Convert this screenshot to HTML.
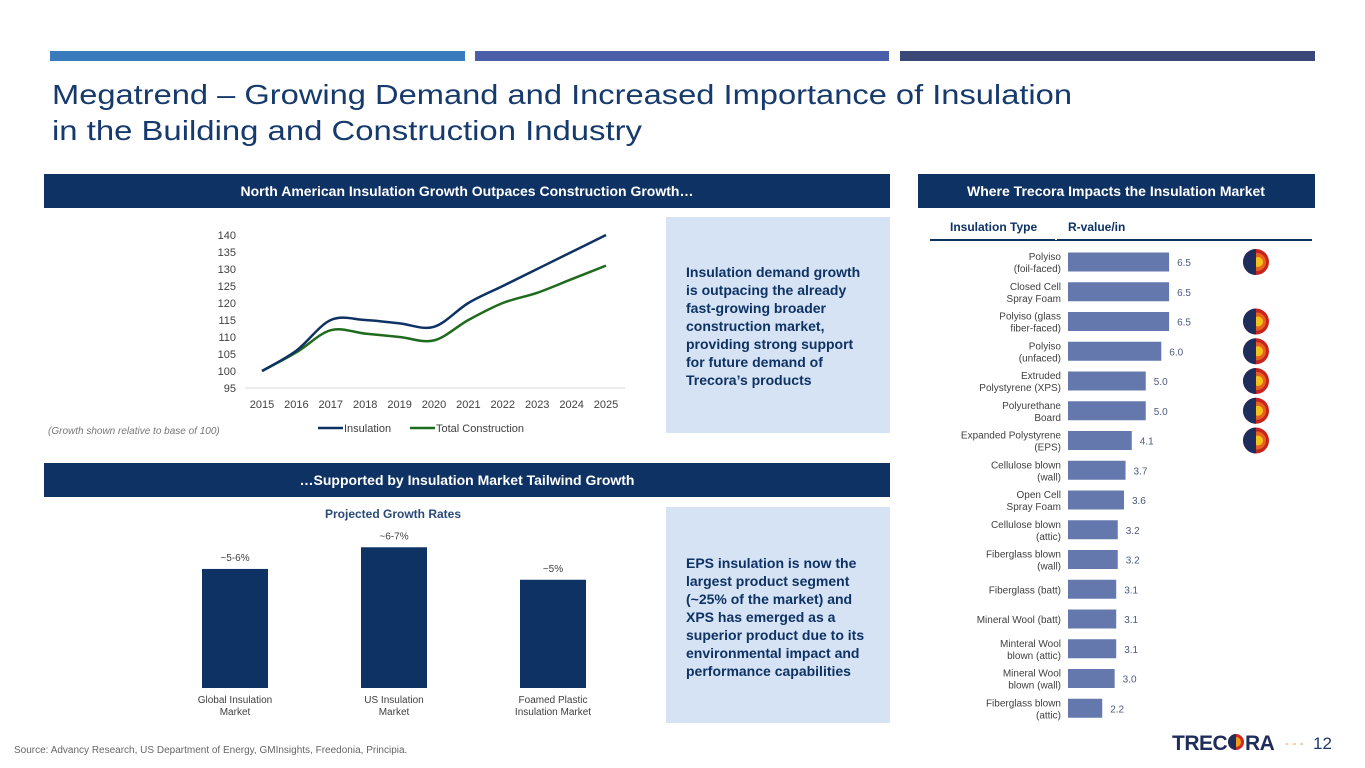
<!DOCTYPE html>
<html><head><meta charset="utf-8"><style>
body{margin:0;background:#fff;}
svg{display:block;font-family:"Liberation Sans",Arial,sans-serif;}
</style></head><body>
<svg id="s" width="1365" height="768" viewBox="0 0 1365 768" xmlns="http://www.w3.org/2000/svg">
<rect x="50" y="51" width="415" height="10" fill="#3b7bbd"/>
<rect x="475" y="51" width="414" height="10" fill="#4b5ea8"/>
<rect x="900" y="51" width="415" height="10" fill="#3a4878"/>
<text x="52" y="104" font-size="28" fill="#163a6c" textLength="1020" lengthAdjust="spacingAndGlyphs">Megatrend – Growing Demand and Increased Importance of Insulation</text>
<text x="52" y="140" font-size="28" fill="#163a6c" textLength="590" lengthAdjust="spacingAndGlyphs">in the Building and Construction Industry</text>

<rect x="44" y="174" width="846" height="34" fill="#0e3264"/>
<text x="467" y="196" font-size="14" font-weight="bold" fill="#fff" text-anchor="middle">North American Insulation Growth Outpaces Construction Growth…</text>
<rect x="918" y="174" width="397" height="34" fill="#0e3264"/>
<text x="1116" y="196" font-size="14" font-weight="bold" fill="#fff" text-anchor="middle">Where Trecora Impacts the Insulation Market</text>
<rect x="44" y="463" width="846" height="34" fill="#0e3264"/>
<text x="467" y="485" font-size="14" font-weight="bold" fill="#fff" text-anchor="middle">…Supported by Insulation Market Tailwind Growth</text>

<rect x="666" y="217" width="224" height="216" fill="#d5e3f4"/>
<text font-size="14" font-weight="bold" fill="#0e3264">
<tspan x="686" y="277">Insulation demand growth</tspan><tspan x="686" y="295">is outpacing the already</tspan><tspan x="686" y="313">fast-growing broader</tspan><tspan x="686" y="331">construction market,</tspan><tspan x="686" y="349">providing strong support</tspan><tspan x="686" y="367">for future demand of</tspan><tspan x="686" y="385">Trecora’s products</tspan></text>
<rect x="666" y="507" width="224" height="216" fill="#d5e3f4"/>
<text font-size="14" font-weight="bold" fill="#0e3264">
<tspan x="686" y="568">EPS insulation is now the</tspan><tspan x="686" y="586">largest product segment</tspan><tspan x="686" y="604">(~25% of the market) and</tspan><tspan x="686" y="622">XPS has emerged as a</tspan><tspan x="686" y="640">superior product due to its</tspan><tspan x="686" y="658">environmental impact and</tspan><tspan x="686" y="676">performance capabilities</tspan></text>

<text x="48" y="434" font-size="10" font-style="italic" fill="#777">(Growth shown relative to base of 100)</text>
<g id="lc"></g>
<text x="393" y="518" font-size="12" font-weight="bold" fill="#2a4a7a" text-anchor="middle">Projected Growth Rates</text>
<g id="bc"></g>

<text x="950" y="231" font-size="12" font-weight="bold" fill="#0e3264">Insulation Type</text>
<text x="1068" y="231" font-size="12" font-weight="bold" fill="#0e3264">R-value/in</text>
<rect x="930" y="239" width="382" height="2" fill="#0e3264"/>
<rect x="1055" y="218" width="2" height="22" fill="#fff"/>
<g id="rc"></g>

<text x="14" y="753" font-size="10" fill="#666">Source: Advancy Research, US Department of Energy, GMInsights, Freedonia, Principia.</text>
<g>
<text x="1172" y="750" font-size="21" font-weight="bold" fill="#1f2d5c" letter-spacing="-0.5">TREC</text>
<circle cx="1236" cy="742" r="8" fill="#d02a20"/><circle cx="1236" cy="742" r="5" fill="#f19a1c"/><path d="M1236 734 A8 8 0 0 0 1236 750 Z" fill="#1f2d5c"/>
<text x="1245" y="750" font-size="21" font-weight="bold" fill="#1f2d5c" letter-spacing="-0.5">RA</text>
</g>
<text x="1285" y="747" font-size="12" fill="#e79a5a">- - -</text>
<text x="1313" y="749" font-size="17" fill="#1f3a6c">12</text>
</svg>
<script>
const NS='http://www.w3.org/2000/svg';
function mk(p,t,a,txt){const e=document.createElementNS(NS,t);for(const k in a)e.setAttribute(k,a[k]);if(txt!==undefined)e.textContent=txt;p.appendChild(e);return e;}

// Line chart data
const years=['2015','2016','2017','2018','2019','2020','2021','2022','2023','2024','2025'];
const insulation=[100,106,115,115,114,113,120,125,130,135,140];
const construction=[100,105.5,112,111,110,109,115,120,123,127,131];
const yTicks=[95,100,105,110,115,120,125,130,135,140];

// Bar chart data
const growthCats=[['Global Insulation','Market'],['US Insulation','Market'],['Foamed Plastic','Insulation Market']];
const growthVals=[5.5,6.5,5.0];
const growthLabels=['~5-6%','~6-7%','~5%'];

// R-value data
const rTypes=[['Polyiso','(foil-faced)'],['Closed Cell','Spray Foam'],['Polyiso (glass','fiber-faced)'],['Polyiso','(unfaced)'],['Extruded','Polystyrene (XPS)'],['Polyurethane','Board'],['Expanded Polystyrene','(EPS)'],['Cellulose blown','(wall)'],['Open Cell','Spray Foam'],['Cellulose blown','(attic)'],['Fiberglass blown','(wall)'],['Fiberglass (batt)'],['Mineral Wool (batt)'],['Minteral Wool','blown (attic)'],['Mineral Wool','blown (wall)'],['Fiberglass blown','(attic)']];
const rVals=[6.5,6.5,6.5,6.0,5.0,5.0,4.1,3.7,3.6,3.2,3.2,3.1,3.1,3.1,3.0,2.2];
const rTrecora=[1,0,1,1,1,1,1,0,0,0,0,0,0,0,0,0];

// Line chart
const lc=document.getElementById('lc');
const lx=i=>262+i*34.4, ly=v=>388-(v-95)*(153/45);
mk(lc,'line',{x1:245,x2:625,y1:388,y2:388,stroke:'#d9d9d9','stroke-width':1});
yTicks.forEach(t=>{const e=mk(lc,'text',{x:236,y:ly(t)+4,'font-size':11,fill:'#404040','text-anchor':'end'},t);

});
years.forEach((y,i)=>{const e=mk(lc,'text',{x:lx(i),y:408,'font-size':11,fill:'#404040','text-anchor':'middle'},y);

});
function smooth(vals){const p=vals.map((v,i)=>[lx(i),ly(v)]);let d='M'+p[0][0]+' '+p[0][1];
for(let i=0;i<p.length-1;i++){const p0=p[Math.max(0,i-1)],p1=p[i],p2=p[i+1],p3=p[Math.min(p.length-1,i+2)];
const c1=[p1[0]+(p2[0]-p0[0])/6,p1[1]+(p2[1]-p0[1])/6],c2=[p2[0]-(p3[0]-p1[0])/6,p2[1]-(p3[1]-p1[1])/6];
d+=` C${c1[0]} ${c1[1]} ${c2[0]} ${c2[1]} ${p2[0]} ${p2[1]}`;}return d;}
const l2=mk(lc,'path',{d:smooth(construction),fill:'none',stroke:'#1e6b1e','stroke-width':2.5});


const l1=mk(lc,'path',{d:smooth(insulation),fill:'none',stroke:'#0e3264','stroke-width':2.5});


mk(lc,'line',{x1:318,x2:343,y1:428,y2:428,stroke:'#0e3264','stroke-width':2.5});
const lg1=mk(lc,'text',{x:344,y:432,'font-size':11,fill:'#404040'},'Insulation');


mk(lc,'line',{x1:410,x2:435,y1:428,y2:428,stroke:'#1e6b1e','stroke-width':2.5});
const lg2=mk(lc,'text',{x:436,y:432,'font-size':11,fill:'#404040'},'Total Construction');



// Growth bars
const bc=document.getElementById('bc');
const bx=i=>235+i*159, by=v=>688-v*21.65;
growthVals.forEach((v,i)=>{
const r=mk(bc,'rect',{x:bx(i)-33,y:by(v),width:66,height:688-by(v),fill:'#0e3264'});


mk(bc,'text',{x:bx(i),y:by(v)-8,'font-size':10,fill:'#404040','text-anchor':'middle'},growthLabels[i]);
growthCats[i].forEach((l,j)=>mk(bc,'text',{x:bx(i),y:703+j*12,'font-size':10,fill:'#404040','text-anchor':'middle'},l));
});

// R-value bars
const rc=document.getElementById('rc');
const ry=i=>262+i*29.75, rw=v=>v*15.55;
rVals.forEach((v,i)=>{
const y=ry(i);
const r=mk(rc,'rect',{x:1068,y:y-9.5,width:rw(v),height:19,fill:'#6478ad'});


mk(rc,'text',{x:1068+rw(v)+8,y:y+4,'font-size':10,fill:'#4a5a80'},v.toFixed(1));
const lines=rTypes[i];
lines.forEach((l,j)=>mk(rc,'text',{x:1061,y:y+4+(lines.length===2?(j?6:-6):0),'font-size':10,fill:'#404040','text-anchor':'end'},l));
if(rTrecora[i]){
const g=mk(rc,'g',{});


mk(g,'circle',{cx:1256,cy:y,r:13,fill:'#c8241e'});
mk(g,'circle',{cx:1257,cy:y,r:9,fill:'#e8621e'});
mk(g,'circle',{cx:1258,cy:y,r:5,fill:'#f5c21a'});
mk(g,'path',{d:`M1256 ${y-13} A13 13 0 0 0 1256 ${y+13} Z`,fill:'#1f2d5c'});
}
});
</script>
</body></html>
